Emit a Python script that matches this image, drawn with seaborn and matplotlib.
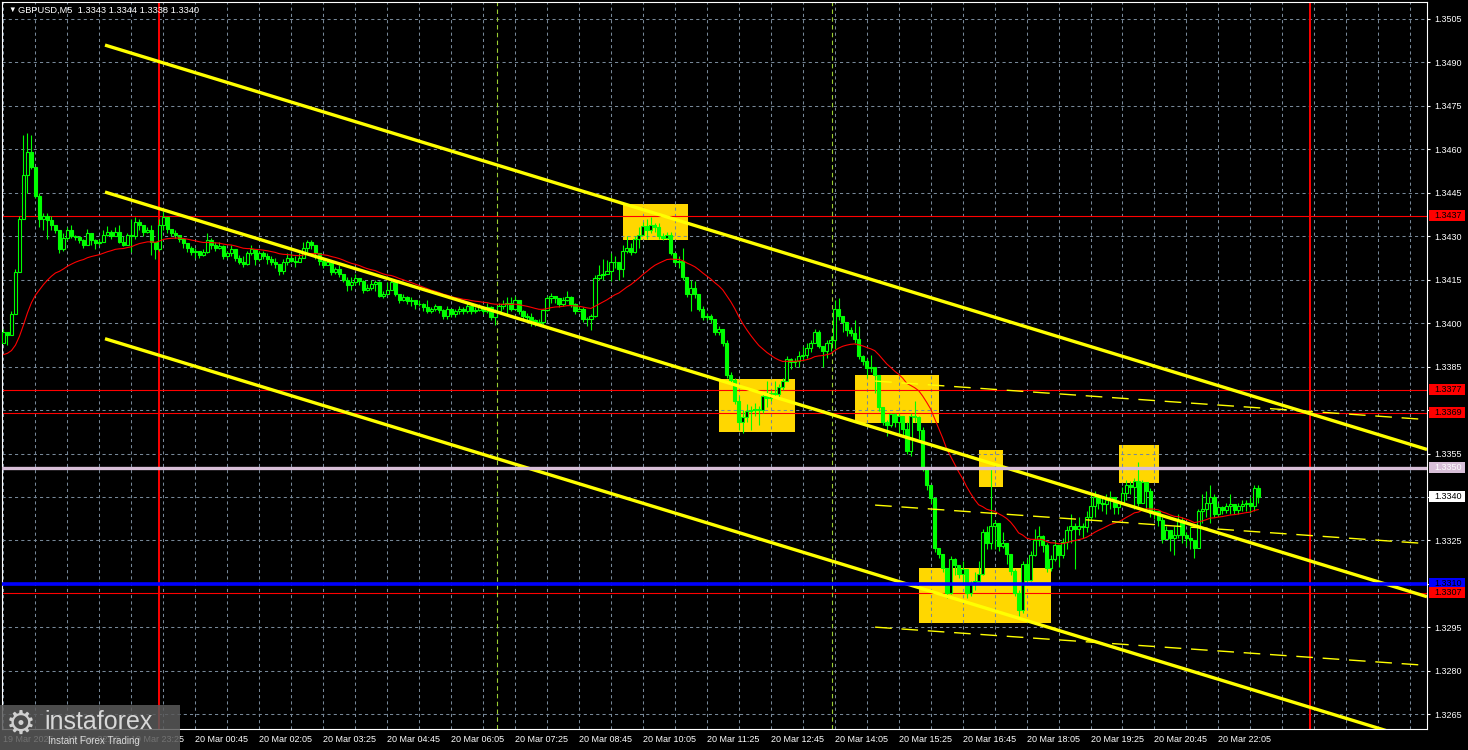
import numpy as np
import pandas as pd
import matplotlib
matplotlib.use("Agg")
import matplotlib.pyplot as plt
import seaborn as sns
from matplotlib.patches import Rectangle
from matplotlib.transforms import blended_transform_factory

sns.set_style("dark")
plt.rcParams['font.family'] = ['Liberation Sans', 'DejaVu Sans']

# ---------------- data (prices in pips above 1.3000) ----------------
title_text = "GBPUSD,M5  1.3343 1.3344 1.3338 1.3340"
first_open_pips = 393.0

close_pips = [
    397, 396, 403, 417.5, 436, 451, 459, 454, 444, 436,
    437, 435.5, 434, 432, 425.5, 429.5, 432, 430, 429.8, 428.5,
    427, 431, 428.5, 427.5, 428, 430.5, 431.5, 430, 431.5, 428,
    427, 430.5, 430, 435, 434, 431.5, 432, 428, 425.5, 434,
    436.5, 432.5, 431, 430.5, 429, 427.5, 426, 424.5, 425, 423.5,
    424.5, 428.5, 427, 426, 426.5, 423, 424, 425.5, 422.5, 421,
    420.5, 424, 425.5, 422, 424, 423, 422, 421, 420.5, 418,
    421, 422.5, 421.5, 421, 422.5, 426, 428, 427, 424, 421.5,
    420, 421, 417.5, 418.5, 417, 415, 413, 414, 415.5, 414.5,
    411.5, 412, 413.5, 414, 409.5, 410, 411.5, 414, 410, 408,
    409, 407.5, 408, 406.5, 406.5, 405.5, 404, 405, 406, 404.5,
    402.5, 405, 403, 404, 405, 404, 406, 404, 404.5, 405.5,
    404, 405.5, 402, 404, 406, 406.5, 407, 405, 408, 404,
    402.5, 402, 401, 400, 400.5, 404.5, 408.5, 409.5, 408.5, 406.5,
    408, 409, 406.5, 404, 405, 401.5, 401.5, 402.5, 415.5, 416.5,
    417, 418, 421, 421, 418.5, 425, 426, 424.5, 429, 430.5,
    433.5, 432, 434, 433, 430, 429.5, 430.5, 424, 421, 421.5,
    416, 410, 412, 410, 405, 402, 402.5, 401.5, 397, 398,
    393, 382, 380.5, 373, 366, 367.5, 369.5, 370, 370.5, 370,
    375, 374, 376, 375.5, 378, 380, 387.5, 386.5, 387, 388.5,
    389, 391.5, 393, 397, 392, 390.5, 393, 394, 405, 402.5,
    400.5, 397.5, 396.5, 394.5, 388.5, 387, 384.5, 385, 382, 371,
    366, 365, 368.5, 366, 368, 363.5, 356, 368, 367.5, 363,
    350.5, 344, 339.5, 322.5, 320.5, 315.5, 307, 318.5, 316.5, 313.5,
    315, 307, 310, 311, 313.5, 328, 324, 330, 331, 323,
    324, 320.5, 314.5, 307, 301, 317, 311.5, 320, 325, 326.5,
    323.5, 315.5, 318.5, 323.5, 320, 324.5, 328.5, 330, 329, 330,
    329.5, 333, 337, 340, 338, 337.5, 339, 340, 336.5, 338,
    341.5, 344, 343.5, 345.5, 338, 345, 342, 334.5, 335, 332,
    325.5, 328.5, 326, 327, 332, 327, 326, 325, 322.5, 335,
    336, 338, 340, 334, 336.5, 335.5, 337, 337.5, 335.5, 337,
    337.5, 338, 337, 343, 340,
]

high_pips = [
    398, 397, 404, 418.5, 437, 465, 465.4, 465, 454, 445,
    438, 438, 437, 434, 432, 431, 433, 434, 430.5, 430,
    429, 432.5, 431, 429, 429, 432, 433.5, 432, 433, 434,
    430, 431, 436, 436.5, 436, 433, 433, 434, 427, 436,
    438.5, 435, 432.5, 432, 430.5, 429, 427.5, 426.5, 426, 425,
    425.5, 431, 429.5, 428, 428, 427, 425, 427, 425, 423.5,
    423, 425, 427, 425, 425, 425, 424, 423, 422.5, 420.5,
    422, 424, 424, 423, 424, 428, 428.5, 428.5, 426, 423,
    422, 422, 421, 419.5, 420, 416.5, 416, 416, 417, 415.5,
    415, 413.5, 415, 415, 414.5, 411, 414, 415.5, 414.5, 409.5,
    410, 409.5, 409, 408, 408, 407, 408, 405.5, 406.5, 406,
    405, 406, 405, 405, 406, 405.5, 407, 405, 405.5, 406.5,
    406, 407, 406, 405, 407, 408, 409, 409, 409.5, 406.5,
    404.5, 403.5, 403.5, 401.5, 401.5, 405, 409.5, 410.5, 409.5, 408,
    409, 411, 409.5, 407, 406, 405.5, 402, 403, 416.5, 420,
    422, 421.8, 424, 423, 420, 427, 430, 427.5, 430, 433,
    435, 436, 436.5, 434.5, 434.5, 431, 431.5, 431.5, 423, 423,
    426, 415.5, 415, 414.5, 409, 406, 403.5, 403, 401, 399,
    396, 394, 383, 381, 375, 370, 372, 371.5, 372.5, 371.5,
    376, 380, 377, 380, 379, 381, 388.5, 388, 388, 390.5,
    392, 393, 394, 398, 397.5, 392, 394, 395.5, 408, 408.5,
    401.5, 400, 398.5, 401, 399, 389, 388, 389, 384, 381,
    370, 366.5, 369, 369, 369, 368, 366, 369, 373, 368,
    364, 349, 344, 340, 322, 320.5, 314, 319.5, 319, 316,
    318, 315, 311, 314, 318, 329, 330, 349.5, 332, 324.5,
    328, 323, 320.5, 315, 308, 318, 318.5, 321.5, 329, 330,
    327, 324, 320, 325, 323.5, 326, 330, 334, 331, 333,
    331, 335, 341, 342, 341, 339.5, 341, 342, 338.5, 339,
    343.5, 346, 345.5, 346.5, 352, 346, 343.5, 343, 336, 334,
    333, 330, 328, 330, 334, 333, 328, 330, 324, 336,
    341, 342, 344, 341, 338, 337, 338, 341, 337, 338,
    339, 339, 340, 344, 344,
]

low_pips = [
    393, 392.5, 396, 403, 417.7, 436.7, 445, 453, 443, 433,
    432, 429, 432, 431, 424, 425, 428.5, 429.5, 428.8, 427.5,
    426, 427, 427, 425.5, 427, 428, 430, 429, 430, 427.5,
    426.5, 427, 424.5, 429, 432, 430, 431, 423.5, 422, 425,
    432, 431, 430, 429.5, 428, 426, 424.5, 423.5, 422.5, 422.5,
    423, 424, 425.5, 425, 425.5, 422, 422.5, 423, 421.5, 420.5,
    419.5, 420, 423.5, 420, 421.5, 422, 420.5, 420, 419, 416.5,
    417, 420, 421, 419.5, 421, 423.5, 424.5, 425.5, 422, 420,
    419, 420, 416.5, 417, 416, 414, 411, 411.5, 413, 413,
    410.5, 411, 411.5, 411, 409, 408.5, 410, 412, 409.5, 407,
    407.5, 406.5, 406, 405, 406, 404, 403.5, 403.5, 404, 403.5,
    401.5, 401.5, 402, 402, 403, 403, 403.5, 403, 403.5, 404,
    403, 403.5, 401, 399.5, 404, 405, 403, 404, 404.5, 403,
    401.5, 401, 399, 399, 399.5, 399.5, 404, 407, 407, 405.5,
    406, 407.5, 405.5, 403, 404, 400.5, 399, 397.5, 402, 415,
    415, 417, 414.5, 419, 415, 416, 424, 423.5, 424, 426,
    431.5, 429, 431, 431.5, 429, 428.5, 429, 423.5, 420, 419,
    415, 409, 404, 408.5, 404, 401, 401, 400, 396, 396,
    392, 381, 379, 372, 363, 362, 366, 363, 368, 365,
    369, 371, 373, 374, 374, 377, 381, 384, 385, 385,
    387, 388, 390, 393, 391.5, 385, 388, 390.5, 391, 401,
    397, 395.5, 395.5, 393, 387.5, 385.5, 381, 383, 376, 369.5,
    365, 361, 364, 364, 362, 361, 355, 354, 366, 360,
    349, 342.5, 338, 321, 319, 314, 305, 306.5, 313, 312,
    310, 305, 306, 308, 311, 313, 322, 322, 322, 321.5,
    322.5, 317, 313, 306, 299, 300, 310, 311, 319.5, 323,
    321, 314, 314.5, 318, 316, 319, 322, 324, 315, 327,
    326, 328, 332, 333, 336, 335, 334, 336, 334, 334,
    338, 339, 341, 336, 337, 340, 336, 333, 332.5, 330,
    324, 326, 321.5, 320, 326, 324, 323, 322, 319, 323,
    331, 333, 331, 333, 333.5, 334, 334.5, 334, 334, 334,
    335, 335, 334.5, 335, 338,
]

ma_alpha = 0.07        # smoothing of the red moving average
ma_seed_pips = 388.5   # level of the moving average at the left edge

price_ticks = [1.3265, 1.3280, 1.3295, 1.3310, 1.3325, 1.3340, 1.3355, 1.3370,
               1.3385, 1.3400, 1.3415, 1.3430, 1.3445, 1.3460, 1.3475, 1.3490, 1.3505]
time_tick_pos = [0, 16, 32, 48, 64, 80, 96, 112, 128, 144, 160, 176, 192, 208,
                 224, 240, 256, 272, 288, 304]
time_tick_labels = ["19 Mar 2025", "19 Mar 22:05", "19 Mar 23:25", "20 Mar 00:45",
                    "20 Mar 02:05", "20 Mar 03:25", "20 Mar 04:45", "20 Mar 06:05",
                    "20 Mar 07:25", "20 Mar 08:45", "20 Mar 10:05", "20 Mar 11:25",
                    "20 Mar 12:45", "20 Mar 14:05", "20 Mar 15:25", "20 Mar 16:45",
                    "20 Mar 18:05", "20 Mar 19:25", "20 Mar 20:45", "20 Mar 22:05"]

# trend channel (bar index, pips)
channel_x = [25.4, 356.2]
channel_upper = [495.9, 356.4]
channel_middle = [445.2, 305.6]
channel_lower = [394.6, 255.1]
ghost_x = [218.1, 356.2]
ghost_upper = [380.0, 366.7]
ghost_middle = [337.2, 323.9]
ghost_lower = [295.1, 281.9]

# signal boxes: bar index from/to, pips from/to
box_x0 = [155.0, 179.1, 213.1, 244.1, 279.1, 229.1]
box_x1 = [171.3, 198.1, 234.1, 250.1, 289.2, 262.1]
box_p0 = [428.6, 362.4, 365.5, 343.4, 344.8, 296.5]
box_p1 = [441.1, 380.7, 382.1, 356.2, 357.9, 315.5]

red_levels = [437, 377, 369, 307]
pink_level = 350
blue_level = 310
day_separators = [38.8, 327.0]
session_marks = [123.4, 207.3]

price_labels = [  # pips, background, text colour
    (437, '#ff0000', 'black'), (377, '#ff0000', 'black'), (369, '#ff0000', 'black'),
    (350, '#d8bfd8', 'white'), (340, '#ffffff', 'black'), (310, '#0000ff', 'black'),
    (307, '#ff0000', 'black'),
]

# ---------------- derived ----------------
def P(v):
    return 1.3 + np.asarray(v, dtype=float) / 10000.0

n = len(close_pips)
assert len(high_pips) == n and len(low_pips) == n, (n, len(high_pips), len(low_pips))
idx = np.arange(n)
c = P(close_pips)
o = P([first_open_pips] + close_pips[:-1])
h = np.maximum(P(high_pips), np.maximum(o, c))
l = np.minimum(P(low_pips), np.minimum(o, c))
series = pd.Series([ma_seed_pips] + list(close_pips))
ma = P(series.ewm(alpha=ma_alpha, adjust=False).mean().values[1:])

# ---------------- figure ----------------
W, H = 1468, 750
fig = plt.figure(figsize=(W / 100, H / 100), dpi=100, facecolor='black')
ax = fig.add_axes([2 / W, 21 / H, 1425 / W, 727 / H])
ax.set_facecolor('black')

LIME = '#00ff00'
GRID = '#778899'
YEL = '#ffff00'

# boxes
for x0, x1, p0, p1 in zip(box_x0, box_x1, box_p0, box_p1):
    ax.add_patch(Rectangle((x0, P(p0)), x1 - x0, P(p1) - P(p0), facecolor='#ffd700',
                           edgecolor='none', zorder=1))

# grid
for p in price_ticks:
    ax.axhline(p, color=GRID, lw=0.75, ls=(0, (3, 3)), zorder=1.5)
for i in range(0, 357, 8):
    ax.axvline(i, color=GRID, lw=0.75, ls=(0, (3, 3)), zorder=1.5)

# horizontal levels
for p in red_levels:
    ax.axhline(P(p), color='#ff0000', lw=0.8, zorder=2)

# vertical separators
for s in day_separators:
    ax.axvline(s, color='#ff0000', lw=1.4, zorder=2)
for s in session_marks:
    ax.axvline(s, color='#9acd32', lw=0.8, ls=(0, (4, 3)), zorder=2)

# candles
ax.vlines(idx, l, h, color=LIME, lw=0.8, zorder=3)
bull = c >= o
ax.bar(idx, np.abs(c - o), bottom=np.minimum(o, c), width=0.78,
       color=np.where(bull, 'black', LIME), edgecolor=LIME, linewidth=0.8, zorder=4)

# moving average
sns.lineplot(x=idx, y=ma, color='#ff0000', lw=0.8, ax=ax, zorder=5)

# channel
for ys in (channel_upper, channel_middle, channel_lower):
    ax.plot(channel_x, P(ys), color=YEL, lw=2.4, solid_capstyle='butt', zorder=6)
for ys in (ghost_upper, ghost_middle, ghost_lower):
    ax.plot(ghost_x, P(ys), color=YEL, lw=1.0, ls=(0, (12, 7)), zorder=6)

ax.axhline(P(pink_level), color='#d8bfd8', lw=2.4, zorder=7)
ax.axhline(P(blue_level), color='#0000ff', lw=2.6, zorder=7)

ax.set_xlim(-0.375, 356.2)
ax.set_ylim(1.325996, 1.351076)
ax.set_xlabel('')
ax.set_ylabel('')

ax.yaxis.tick_right()
ax.set_yticks(price_ticks)
ax.set_yticklabels([f"{p:.4f}" for p in price_ticks])
ax.tick_params(axis='y', colors='white', length=2.5, width=0.8, pad=3, labelsize=6.5,
               direction='out')
ax.set_xticks(time_tick_pos)
ax.set_xticklabels(time_tick_labels, ha='left')
ax.tick_params(axis='x', colors='white', length=0, pad=4, labelsize=6.5)
ax.grid(False)
for sp in ax.spines.values():
    sp.set_color('white')
    sp.set_linewidth(0.8)

# price labels on the right axis
tr = blended_transform_factory(fig.transFigure, ax.transData)
hbox = 11 / 28987
for p, bg, fg in price_labels:
    fig.patches.append(Rectangle((1429 / W, P(p) - hbox / 2), 36 / W, hbox, transform=tr,
                                 facecolor=bg, edgecolor='none', zorder=8))
    fig.text(1434 / W, P(p), f"{P(p):.4f}", transform=tr, color=fg, fontsize=6.5,
             va='center', ha='left', zorder=9)

# title
fig.text(8 / W, 1 - 10 / H, "\u25bc", color='white', fontsize=5.5, va='center', zorder=9)
fig.text(18 / W, 1 - 10.5 / H, title_text, color='white', fontsize=6.7, va='center', zorder=9)

# watermark logo
fig.patches.append(Rectangle((0, 0), 180 / W, 45 / H, transform=fig.transFigure,
                             facecolor='#5a5a5a', alpha=0.85, edgecolor='none', zorder=20))
fig.text(6 / W, 1 - 724 / H, "\u2699", color='#d0d0d0', fontsize=24, va='center',
         family=['DejaVu Sans'], zorder=21)
fig.text(44 / W, 1 - 722 / H, "instaforex", color='#d8d8d8', fontsize=18, va='center',
         zorder=21)
fig.text(48 / W, 1 - 741 / H, "Instant Forex Trading", color='#d8d8d8', fontsize=7,
         va='center', zorder=21)

fig.savefig("out.png", dpi=100, facecolor='black')
